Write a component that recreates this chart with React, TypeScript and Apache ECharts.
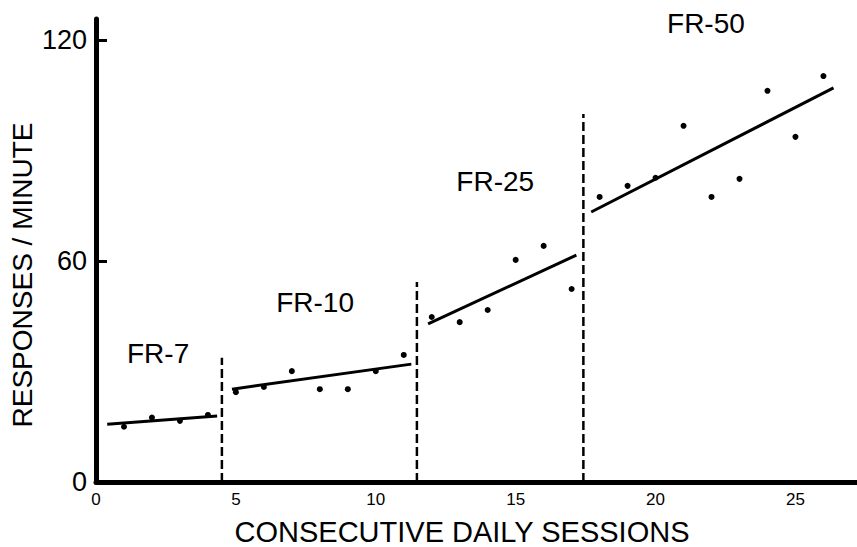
import React, { useEffect, useRef } from "react";
import * as echarts from "echarts";

// Data
const fr7Sessions = [1, 2, 3, 4];
const fr7Values = [15.0, 17.5, 16.6, 18.2];
const fr10Sessions = [5, 6, 7, 8, 9, 10, 11];
const fr10Values = [24.4, 25.8, 30.1, 25.2, 25.2, 30.1, 34.5];
const fr25Sessions = [12, 13, 14, 15, 16, 17];
const fr25Values = [44.8, 43.4, 46.7, 60.3, 64.1, 52.4];
const fr50Sessions = [18, 19, 20, 21, 22, 23, 24, 25, 26];
const fr50Values = [77.4, 80.4, 82.6, 96.7, 77.4, 82.3, 106.2, 93.7, 110.2];

// Fitted lines: [x1, y1, x2, y2]
const fr7Fit = [0.4, 15.7, 4.33, 17.9];
const fr10Fit = [4.86, 25.2, 11.27, 32.0];
const fr25Fit = [11.87, 42.9, 17.17, 61.6];
const fr50Fit = [17.7, 73.3, 26.36, 107.0];

// Phase boundaries (x, top y)
const boundaryX = [4.5, 11.47, 17.42];
const boundaryTop = [33.7, 54.3, 99.9];

// Phase labels
const phaseNames = ["FR-7", "FR-10", "FR-25", "FR-50"];
const phaseLabelX = [2.22, 7.83, 14.27, 21.8];
const phaseLabelY = [34.8, 48.6, 81.5, 124.6];

const xTicks = [0, 5, 10, 15, 20, 25];
const yTicks = [0, 60, 120];

const FONT = "Liberation Sans";

export default function App() {
  const ref = useRef<HTMLDivElement>(null);
  useEffect(() => {
    if (!ref.current) return;
    const chart = echarts.init(ref.current, undefined, { renderer: "svg" });

    const pts = (xs: number[], ys: number[]) => xs.map((x, i) => [x, ys[i]]);
    const fit = (f: number[]) => [
      [f[0], f[1]],
      [f[2], f[3]],
    ];

    const series: any[] = [];
    [
      pts(fr7Sessions, fr7Values),
      pts(fr10Sessions, fr10Values),
      pts(fr25Sessions, fr25Values),
      pts(fr50Sessions, fr50Values),
    ].forEach((d) =>
      series.push({
        type: "scatter",
        data: d,
        symbol: "circle",
        symbolSize: 6,
        itemStyle: { color: "#000", opacity: 1 },
        z: 3,
      })
    );
    [fr7Fit, fr10Fit, fr25Fit, fr50Fit].forEach((f) =>
      series.push({
        type: "line",
        data: fit(f),
        symbol: "none",
        lineStyle: { color: "#000", width: 3 },
        z: 2,
      })
    );
    boundaryX.forEach((bx, i) =>
      series.push({
        type: "line",
        data: [
          [bx, 0],
          [bx, boundaryTop[i]],
        ],
        symbol: "none",
        lineStyle: { color: "#000", width: 2.5, type: [9, 4] },
        z: 2,
      })
    );
    series.push({
      type: "scatter",
      data: phaseNames.map((n, i) => ({ name: n, value: [phaseLabelX[i], phaseLabelY[i]] })),
      symbolSize: 1,
      itemStyle: { color: "rgba(0,0,0,0)", opacity: 1 },
      label: {
        show: true,
        position: "inside",
        formatter: (p: any) => p.name,
        color: "#000",
        opacity: 1,
        fontSize: 28,
        fontFamily: FONT,
      },
      z: 4,
    });

    chart.setOption({
      animation: false,
      backgroundColor: "#fff",
      grid: { left: 96, right: 0, top: 19, bottom: 65, containLabel: false },
      xAxis: {
        type: "value",
        min: 0,
        max: 27.2,
        splitLine: { show: false },
        axisLine: { show: true, onZero: false, lineStyle: { color: "#000", width: 5 } },
        axisTick: { show: false },
        axisLabel: {
          customValues: xTicks,
          color: "#000",
          fontSize: 17,
          fontFamily: FONT,
          margin: 9,
        },
      },
      yAxis: {
        type: "value",
        min: 0,
        max: 125.7,
        splitLine: { show: false },
        axisLine: { show: true, onZero: false, lineStyle: { color: "#000", width: 5 } },
        axisTick: {
          show: true,
          inside: true,
          length: 11,
          customValues: yTicks,
          lineStyle: { color: "#000", width: 3 },
        },
        axisLabel: {
          customValues: yTicks,
          color: "#000",
          fontSize: 27,
          fontFamily: FONT,
          margin: 9,
        },
      },
      graphic: [
        {
          type: "text",
          x: 22,
          y: 275,
          rotation: Math.PI / 2,
          style: {
            text: "RESPONSES / MINUTE",
            fontSize: 28,
            fontFamily: FONT,
            fill: "#000",
            align: "center",
            verticalAlign: "middle",
          },
        },
        {
          type: "text",
          x: 462,
          y: 532,
          style: {
            text: "CONSECUTIVE DAILY SESSIONS",
            fontSize: 29,
            fontFamily: FONT,
            fill: "#000",
            align: "center",
            verticalAlign: "middle",
          },
        },
      ],
      series,
    });
    return () => chart.dispose();
  }, []);

  return (
    <div
      ref={ref}
      style={{ position: "fixed", left: 0, top: 0, width: 857, height: 547, background: "#fff" }}
    />
  );
}
